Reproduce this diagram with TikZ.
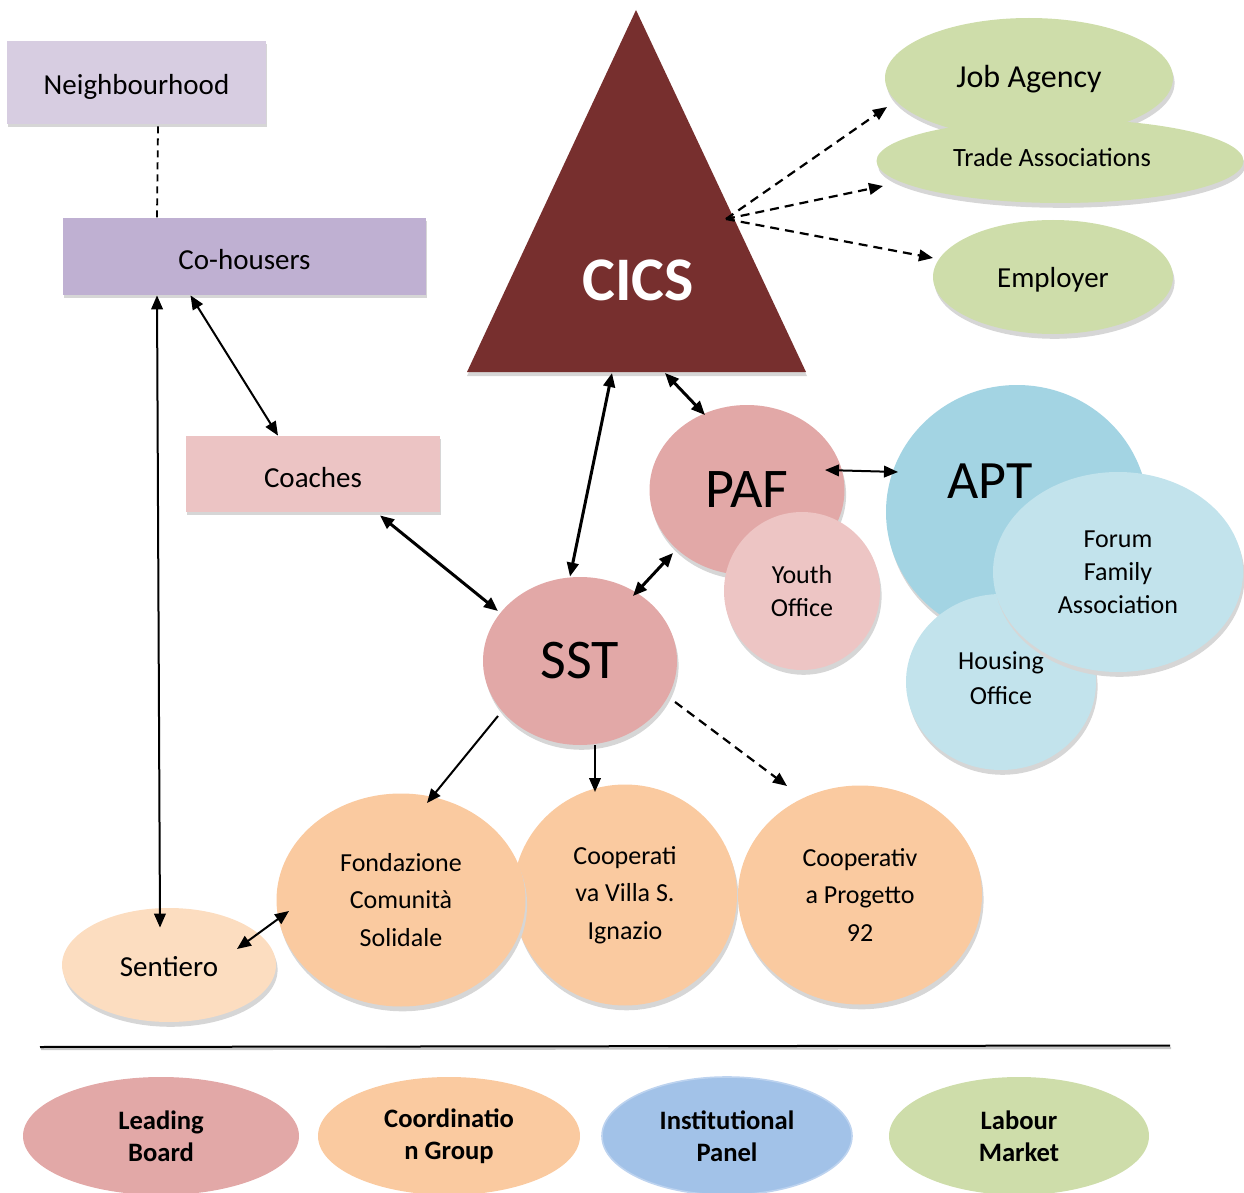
\documentclass[tikz,border=0pt]{standalone}
\usepackage{fontspec}
\setmainfont{Carlito}
\usetikzlibrary{arrows.meta,shapes.geometric,shadows,calc}
\definecolor{neighc}{HTML}{D7CDE1}
\definecolor{cohc}{HTML}{BFB0D2}
\definecolor{coachc}{HTML}{ECC4C4}
\definecolor{cicsc}{HTML}{772F2E}
\definecolor{greenc}{HTML}{CEDDAA}
\definecolor{pinkc}{HTML}{E2A8A7}
\definecolor{lpinkc}{HTML}{EDC5C4}
\definecolor{aptc}{HTML}{A3D4E3}
\definecolor{lbluec}{HTML}{C2E3EC}
\definecolor{orangec}{HTML}{FACAA0}
\definecolor{lorangec}{HTML}{FCDDC0}
\definecolor{instc}{HTML}{A2C2E8}
\definecolor{instb}{HTML}{BDD3EF}
\newcommand{\lowr}[2]{\raisebox{#1}[\height][\depth]{#2}}
\tikzset{
  rshd/.style={drop shadow={shadow xshift=0.3pt, shadow yshift=-1.6pt, fill=black!16, opacity=1}},
  eshd/.style={drop shadow={shadow xshift=0.8pt, shadow yshift=-2.4pt, fill=black!16, opacity=1}},
  rbox/.style={rectangle, inner sep=0pt, rshd, font=\fontsize{14.5}{17}\selectfont},
  ebox/.style={ellipse, inner sep=0pt, eshd, align=center},
  legend/.style={ellipse, inner sep=0pt, align=center, font=\fontsize{13.3}{16}\selectfont\bfseries},
  small/.style={font=\fontsize{13}{16.4}\selectfont},
  orgtxt/.style={font=\fontsize{13}{18.7}\selectfont},
  bigtxt/.style={font=\fontsize{28}{30}\selectfont},
  >={Triangle[length=7pt,width=5.8pt]},
  thinarr/.style={line width=1pt},
  thickarr/.style={line width=1.5pt},
  dasharr/.style={line width=1.1pt, dash pattern=on 4.5pt off 3pt, ->}
}
\begin{document}
\begin{tikzpicture}[x=0.5pt,y=-0.5pt]
\useasboundingbox (0,0) rectangle (1244,1193);

% rectangles
\node[rbox, fill=neighc, minimum width=129.5pt, minimum height=41.5pt] (neigh) at (136.5,82.5) {\lowr{-2pt}{Neighbourhood}};
\node[rbox, fill=cohc, minimum width=181.5pt, minimum height=38.5pt] (coh) at (244.5,256.5) {\lowr{-1.5pt}{Co-housers}};
\node[rbox, fill=coachc, minimum width=127pt, minimum height=38pt] (coach) at (313,474) {\lowr{-2pt}{Coaches}};

% CICS triangle
\fill[black!16] (637,14) -- (467,376) -- (807,376) -- cycle;
\fill[cicsc] (636,10) -- (467,372) -- (806,372) -- cycle;
\node[font=\fontsize{31}{33}\selectfont\bfseries, text=white] (cics) at (638,280) {CICS};
\coordinate (cicsL) at (467,372);
\coordinate (cicsfan) at (726,219);

% labour market
\node[ebox, fill=greenc, minimum width=144pt, minimum height=60pt, font=\fontsize{16}{18}\selectfont] (job) at (1029,78) {\lowr{-0.5pt}{Job Agency}};
\node[ebox, fill=greenc, minimum width=183.5pt, minimum height=42pt, font=\fontsize{13.2}{15}\selectfont] (trade) at (1060,161) {\lowr{2pt}{\hspace*{-8pt}Trade Associations}};
\node[ebox, fill=greenc, minimum width=120pt, minimum height=57pt, font=\fontsize{14.5}{17}\selectfont] (emp) at (1053,277) {\lowr{-1.5pt}{Employer}};

% leading board
\node[ebox, fill=pinkc, minimum width=97.5pt, minimum height=85pt, bigtxt] (paf) at (747,490) {PAF};
\node[ebox, fill=lpinkc, minimum width=78pt, minimum height=79pt, small] (youth) at (802,591) {Youth\\Office};
\node[ebox, fill=pinkc, minimum width=97pt, minimum height=84pt, bigtxt] (sst) at (580,661) {SST};

% institutional
\node[ebox, fill=aptc, minimum width=131pt, minimum height=127pt] (apt) at (1017,512) {};
\node[bigtxt, font=\fontsize{27}{30}\selectfont] (aptlab) at (990,481) {APT};
\node[ebox, fill=lbluec, minimum width=95pt, minimum height=88pt] (housing) at (1001,682) {};
\node[ebox, fill=lbluec, minimum width=125pt, minimum height=100pt, small] (forum) at (1118,572) {Forum\\Family\\Association};
\node[small, align=center, font=\fontsize{13}{17.5}\selectfont] (houslab) at (1001,678) {Housing\\Office};

% coordination group
\node[ebox, fill=orangec, minimum width=112pt, minimum height=110.5pt, orgtxt] (villa) at (625,895) {Cooperati\\va Villa S.\\Ignazio};
\node[ebox, fill=orangec, minimum width=124.5pt, minimum height=106.5pt, orgtxt] (fond) at (401,900) {Fondazione\\Comunità\\Solidale};
\node[ebox, fill=orangec, minimum width=122pt, minimum height=109.5pt, orgtxt] (prog) at (860,895) {Cooperativ\\a Progetto\\92};
\node[ebox, fill=lorangec, minimum width=107pt, minimum height=57pt, font=\fontsize{14.5}{17}\selectfont] (sent) at (169,965) {\lowr{-1pt}{Sentiero}};

% connectors
\draw[line width=0.9pt, dash pattern=on 3.5pt off 2.5pt] ([xshift=10.75pt,yshift=-1pt]neigh.south) -- ([xshift=-43.75pt]coh.north);
\draw[thinarr,<->] ([xshift=-43.75pt]coh.south) -- ([xshift=-4.5pt,yshift=-10pt]sent.north);
\draw[thinarr,<->] ([xshift=-27pt]coh.south) -- ([xshift=-17.5pt]coach.north);
\draw[thickarr,<->] ([xshift=33.5pt,yshift=-1.5pt]coach.south) -- ([shift={(-41pt,25pt)}]sst.center);
\draw[thickarr,<->] ([xshift=72.5pt,yshift=-0.5pt]cicsL) -- ([xshift=-5pt]sst.north);
\draw[thickarr,<->] ([xshift=99pt,yshift=-0.5pt]cicsL) -- ([shift={(-21pt,37.5pt)}]paf.center);
\draw[thinarr,<->] ([shift={(39pt,10pt)}]paf.center) -- ([shift={(-59.5pt,20pt)}]apt.center);
\draw[thickarr,<->] ([shift={(-37pt,-31.5pt)}]paf.center) -- ([shift={(26.5pt,32.5pt)}]sst.center);
\draw[thinarr,->] ([shift={(-41pt,-27.5pt)}]sst.center) -- ([shift={(13pt,48.5pt)}]fond.center);
\draw[thinarr,->] ([shift={(7.5pt,-42pt)}]sst.center) -- ([shift={(-15pt,51.5pt)}]villa.center);
\draw[dasharr] ([shift={(47.5pt,-20.5pt)}]sst.center) -- ([shift={(-36.5pt,54.5pt)}]prog.center);
\draw[thinarr,<->] ([shift={(34pt,8pt)}]sent.center) -- ([shift={(-56pt,-5.5pt)}]fond.center);
\draw[dasharr] (cicsfan) -- ([shift={(-71pt,-14.5pt)}]job.center);
\draw[dasharr] (cicsfan) -- ([shift={(-88.5pt,-12.5pt)}]trade.center);
\draw[dasharr] (cicsfan) -- ([shift={(-60pt,9.5pt)}]emp.center);

% rule
\draw[black!22, line width=1.2pt] (41,1049) -- (1171,1048);
\draw[line width=1pt] (40,1047) -- (1170,1045.5);

% legend
\node[legend, fill=pinkc, minimum width=138pt, minimum height=59pt] (lead) at (161,1136) {Leading\\Board};
\node[legend, fill=orangec, minimum width=131pt, minimum height=59pt] (coord) at (449,1136) {Coordinatio\\n Group};
\node[legend, fill=instc, draw=instb, line width=0.8pt, minimum width=125pt, minimum height=59pt] (inst) at (727,1136) {Institutional\\Panel};
\node[legend, fill=greenc, minimum width=130pt, minimum height=59pt] (labour) at (1019,1136) {Labour\\Market};
\end{tikzpicture}
\end{document}
